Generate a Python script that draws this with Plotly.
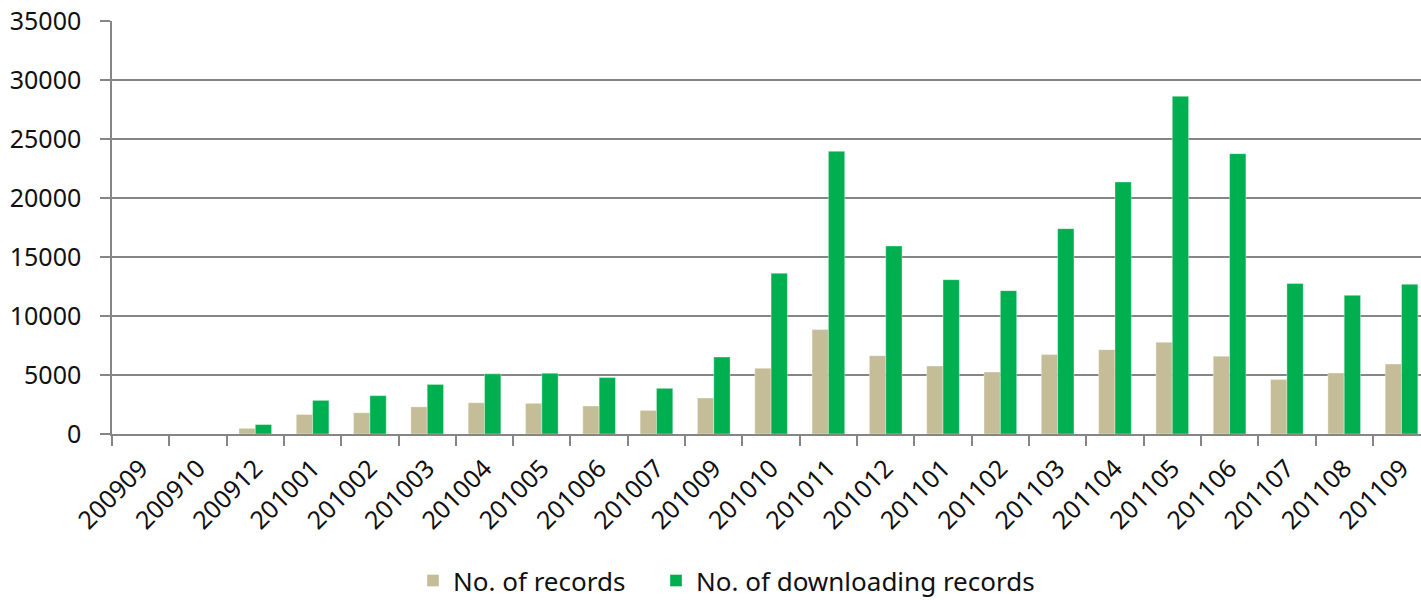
import plotly.graph_objects as go

months = ["200909", "200910", "200912", "201001", "201002", "201003", "201004",
          "201005", "201006", "201007", "201009", "201010", "201011", "201012",
          "201101", "201102", "201103", "201104", "201105", "201106", "201107",
          "201108", "201109"]
records = [0, 0, 480, 1650, 1800, 2300, 2650, 2600, 2370, 2000, 3050, 5570,
           8850, 6640, 5760, 5250, 6730, 7150, 7770, 6590, 4610, 5170, 5930]
downloads = [0, 0, 800, 2850, 3250, 4200, 5100, 5150, 4780, 3870, 6520, 13620,
             23960, 15930, 13080, 12150, 17400, 21360, 28620, 23760, 12750,
             11750, 12690]
y_ticks = [0, 5000, 10000, 15000, 20000, 25000, 30000, 35000]

TAN = "#C4BD97"
GREEN = "#00B050"
GRID = "#868686"
FONT = "Noto Sans"
TXT = "#111111"

fig = go.Figure()
fig.add_trace(go.Bar(x=months, y=records, name="No. of records", legend="legend",
                     marker=dict(color=TAN, line=dict(color="rgba(255,255,255,0.6)", width=0.6))))
fig.add_trace(go.Bar(x=months, y=downloads, name="No. of downloading records", legend="legend2",
                     marker=dict(color=GREEN, line=dict(color="rgba(255,255,255,0.6)", width=0.6))))

leg_common = dict(orientation="h", xanchor="left", y=-0.355, yanchor="middle",
                  font=dict(family=FONT, size=26, color=TXT), itemwidth=30,
                  bgcolor="rgba(0,0,0,0)")

fig.update_layout(
    width=1421, height=600,
    margin=dict(l=112, r=0, t=21, b=166, pad=0, autoexpand=False),
    paper_bgcolor="white", plot_bgcolor="white",
    barmode="group", bargap=0.43, bargroupgap=0,
    font=dict(family=FONT, size=25, color=TXT),
    showlegend=True,
    legend=dict(x=(413 - 112) / 1309, **leg_common),
    legend2=dict(x=(656 - 112) / 1309, **leg_common),
)
fig.update_xaxes(
    type="category", range=[-0.5, 22.34], automargin=False,
    showline=True, linecolor=GRID, linewidth=1.5,
    ticks="outside", tickson="boundaries", ticklen=10, tickcolor=GRID, tickwidth=1.5,
    tickangle=-45, showgrid=False, zeroline=False, ticklabelstandoff=8,
    ticklabeloverflow="allow",
    tickfont=dict(family=FONT, size=25, color=TXT),
)
fig.update_yaxes(
    range=[0, 35000], tickvals=y_ticks, ticktext=[str(v) for v in y_ticks],
    automargin=False, ticklabeloverflow="allow",
    showline=True, linecolor=GRID, linewidth=1.5,
    showgrid=True, gridcolor=GRID, gridwidth=1.5,
    ticks="outside", ticklen=10, tickcolor=GRID, tickwidth=1.5,
    zeroline=False, ticklabelstandoff=14,
    tickfont=dict(family=FONT, size=25, color=TXT),
)

# remove the browser's default 8px body margin so the 1421x600 figure fills the window
fig.write_html("out.html", config={"displayModeBar": False},
               post_script="document.body.style.margin='0';")
